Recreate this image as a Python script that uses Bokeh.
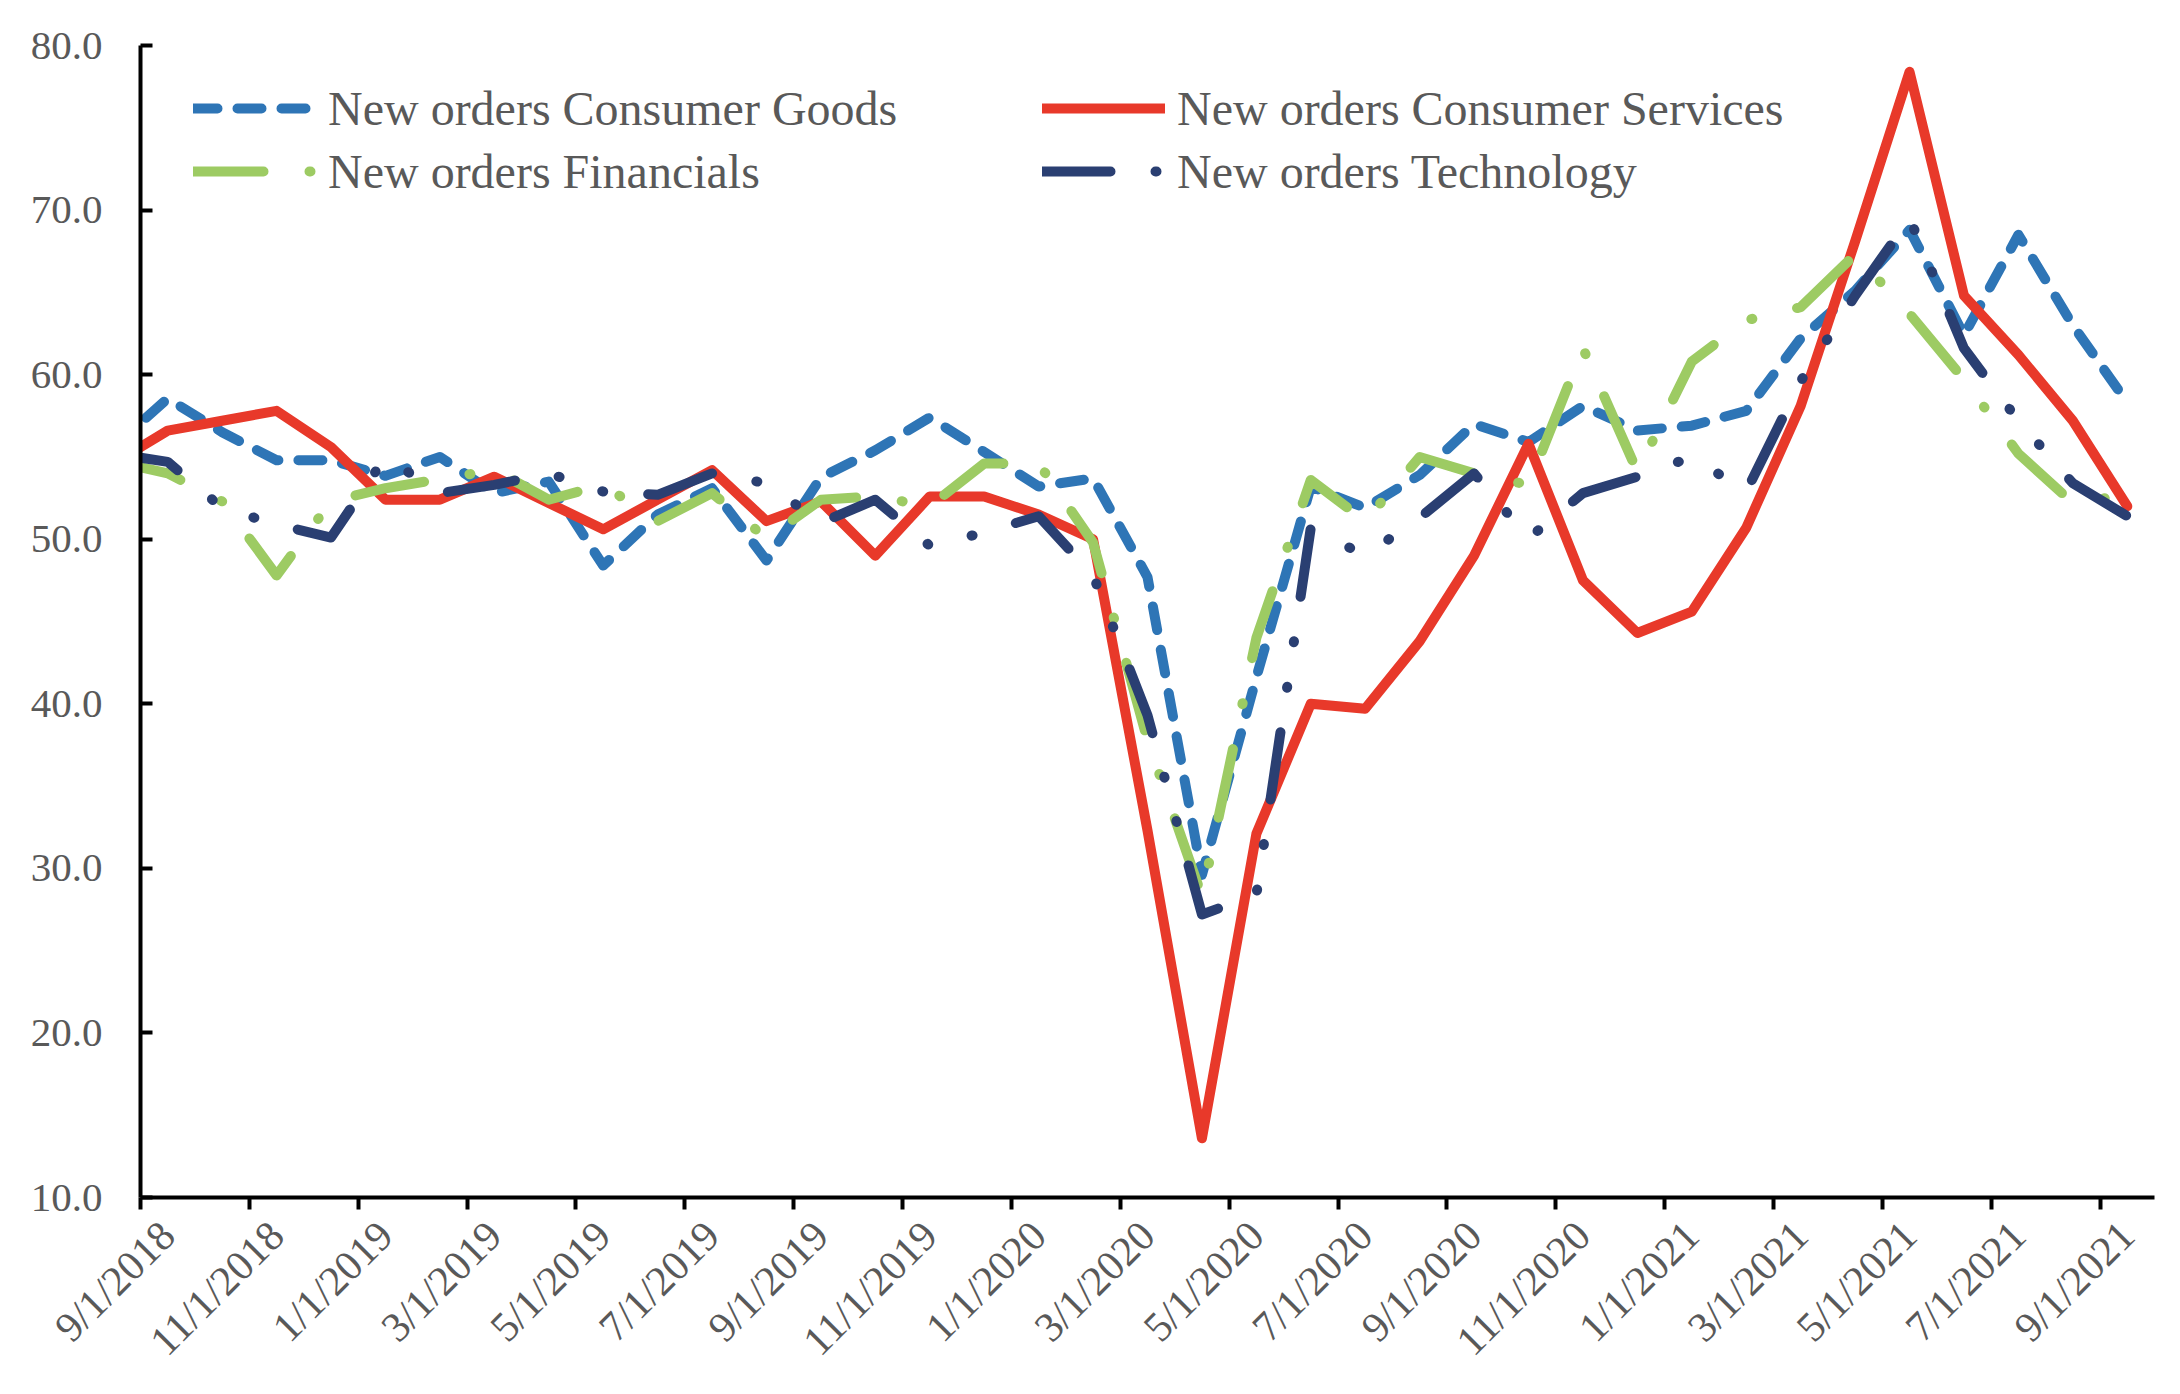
import math
from bokeh.plotting import figure
from bokeh.models import Range1d, FixedTicker, Legend, LegendItem, PrintfTickFormatter
from bokeh.embed import file_html
from bokeh.resources import INLINE

# Monthly categories (first one, 8/1/2018, lies just left of the visible axis start)
months = ["8/1/2018", "9/1/2018", "10/1/2018", "11/1/2018", "12/1/2018",
          "1/1/2019", "2/1/2019", "3/1/2019", "4/1/2019", "5/1/2019", "6/1/2019",
          "7/1/2019", "8/1/2019", "9/1/2019", "10/1/2019", "11/1/2019", "12/1/2019",
          "1/1/2020", "2/1/2020", "3/1/2020", "4/1/2020", "5/1/2020", "6/1/2020",
          "7/1/2020", "8/1/2020", "9/1/2020", "10/1/2020", "11/1/2020", "12/1/2020",
          "1/1/2021", "2/1/2021", "3/1/2021", "4/1/2021", "5/1/2021", "6/1/2021",
          "7/1/2021", "8/1/2021", "9/1/2021"]

consumer_goods = [55.6, 58.55, 56.5, 54.8, 54.8, 53.85, 55.0, 52.8, 53.5, 48.4, 51.5,
                  53.1, 48.7, 53.75, 55.4, 57.4, 55.3, 53.2, 53.7, 47.7, 29.6, 41.6,
                  53.2, 51.9, 53.9, 57.0, 55.9, 58.1, 56.6, 56.9, 57.8, 62.2, 65.1,
                  68.8, 62.4, 68.5, 63.0, 58.3]
consumer_services = [54.6, 56.6, 57.2, 57.8, 55.6, 52.4, 52.4, 53.8, 52.2, 50.6, 52.4,
                     54.2, 51.1, 52.3, 49.0, 52.6, 52.6, 51.5, 50.0, 32.3, 13.6, 32.1,
                     40.0, 39.7, 43.8, 49.0, 55.8, 47.5, 44.3, 45.6, 50.7, 58.1, 68.1,
                     78.4, 64.8, 61.2, 57.2, 52.0]
financials = [54.75, 54.0, 52.3, 47.8, 52.3, 53.1, 53.65, 54.2, 52.4, 53.3, 51.1,
              52.8, 50.05, 52.4, 52.6, 52.0, 54.6, 54.6, 49.8, 37.8, 28.3, 44.0,
              53.6, 51.1, 55.0, 54.0, 53.3, 61.6, 54.1, 60.8, 63.3, 64.1, 67.3,
              63.7, 59.7, 55.2, 52.2, 52.7]
technology = [55.2, 54.7, 51.9, 50.9, 50.1, 55.0, 52.8, 53.3, 54.0, 52.9, 52.7,
              54.0, 53.4, 51.0, 52.4, 49.6, 50.4, 51.4, 47.8, 39.3, 27.2, 28.4,
              50.7, 49.0, 51.3, 54.0, 50.05, 52.8, 53.8, 55.0, 52.9, 59.6, 64.8,
              69.5, 61.6, 57.2, 53.4, 51.4]

y_ticks = [10, 20, 30, 40, 50, 60, 70, 80]

# category positions: 9/1/2018 -> 0
x = [i - 1 for i in range(len(months))]
label_pos = x[1::2]
tick_labels = months[1::2]
tick_marks = [m - 0.5 for m in label_pos]          # tick marks between categories

BLUE = "#2E75B6"
RED = "#E8392A"
GREEN = "#9DCB63"
NAVY = "#2A3F72"
TXT = "#595959"
FONT = "Liberation Serif"

p = figure(width=2176, height=1390, output_backend="svg", toolbar_location=None,
           x_range=Range1d(-0.5, 36.5), y_range=Range1d(10, 80),
           min_border_left=140, min_border_right=22, min_border_top=45,
           min_border_bottom=193)
p.outline_line_color = None
p.xgrid.grid_line_color = None
p.ygrid.grid_line_color = None
p.background_fill_color = "white"

common = dict(line_width=10, line_cap="round", line_join="round")
r_goods = p.line(x, consumer_goods, line_color=BLUE, line_dash="24 20", **common)
r_serv = p.line(x, consumer_services, line_color=RED, **common)
r_fin = p.line(x, financials, line_color=GREEN, line_dash="70 46 1 46", **common)
r_tech = p.line(x, technology, line_color=NAVY, line_dash="68 45 1 45 1 45", **common)

xa = p.xaxis[0]
xa.ticker = FixedTicker(ticks=label_pos, minor_ticks=tick_marks)
xa.major_label_overrides = {pos: lab for pos, lab in zip(label_pos, tick_labels)}
xa.major_label_orientation = math.pi / 4
xa.major_tick_line_color = None
xa.major_tick_out = 12
xa.major_tick_in = 0
xa.minor_tick_line_color = "black"
xa.minor_tick_line_width = 4
xa.minor_tick_out = 12
xa.minor_tick_in = 0
xa.axis_line_color = "black"
xa.axis_line_width = 4
xa.major_label_text_font = FONT
xa.major_label_text_font_size = "42px"
xa.major_label_text_color = TXT
xa.major_label_standoff = 19

ya = p.yaxis[0]
ya.ticker = FixedTicker(ticks=y_ticks)
ya.formatter = PrintfTickFormatter(format="%.1f")
ya.major_tick_in = 12
ya.major_tick_out = 0
ya.major_tick_line_width = 4
ya.major_tick_line_color = "black"
ya.minor_tick_line_color = None
ya.axis_line_color = "black"
ya.axis_line_width = 4
ya.major_label_text_font = FONT
ya.major_label_text_font_size = "41px"
ya.major_label_text_color = TXT
ya.major_label_standoff = 38


def make_legend(items, loc):
    leg = Legend(items=items, location=loc, orientation="vertical")
    leg.glyph_width = 123
    leg.glyph_height = 56
    leg.label_height = 56
    leg.label_standoff = 12
    leg.spacing = 7
    leg.padding = 0
    leg.margin = 0
    leg.border_line_color = None
    leg.background_fill_alpha = 0
    leg.label_text_font = FONT
    leg.label_text_font_size = "48px"
    leg.label_text_color = TXT
    return leg


leg1 = make_legend([LegendItem(label="New orders Consumer Goods", renderers=[r_goods]),
                    LegendItem(label="New orders Financials", renderers=[r_fin])], (53, 998))
leg2 = make_legend([LegendItem(label="New orders Consumer Services", renderers=[r_serv]),
                    LegendItem(label="New orders Technology", renderers=[r_tech])], (902, 998))
p.add_layout(leg1)
p.add_layout(leg2)

open("out.html", "w").write(file_html(p, INLINE))
